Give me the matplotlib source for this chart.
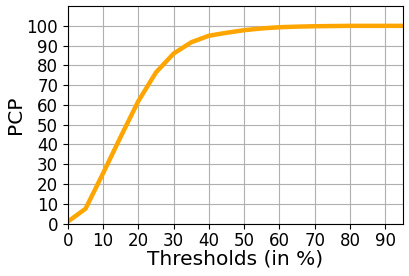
import matplotlib
matplotlib.use("Agg")
import matplotlib.pyplot as plt

thresholds = [0, 5, 10, 15, 20, 25, 30, 35, 40, 45, 50, 55, 60, 65, 70, 75, 80, 85, 90, 95]
pcp = [1, 7.5, 25.5, 44, 62, 76.5, 86, 91.7, 95, 96.5, 97.8, 98.7, 99.3, 99.6, 99.8, 99.9, 100, 100, 100, 100]

fig, ax = plt.subplots(figsize=(4.09, 2.76), dpi=100)
ax.plot(thresholds, pcp, color='orange', linewidth=3.2)
ax.set_xlim(0, 95)
ax.set_ylim(0, 110)
ax.set_xticks(range(0, 100, 10))
ax.set_yticks(range(0, 101, 10))
ax.tick_params(labelsize=12)
ax.tick_params(axis='x', pad=2.5)
ax.grid(True, color='#b0b0b0')
ax.set_axisbelow(True)
ax.set_xlabel('Thresholds (in %)', fontsize=14.5, labelpad=0)
ax.set_ylabel('PCP', fontsize=14.5, labelpad=1)
fig.subplots_adjust(left=0.166, right=0.985, top=0.978, bottom=0.19)
fig.savefig('out.png', dpi=100)
